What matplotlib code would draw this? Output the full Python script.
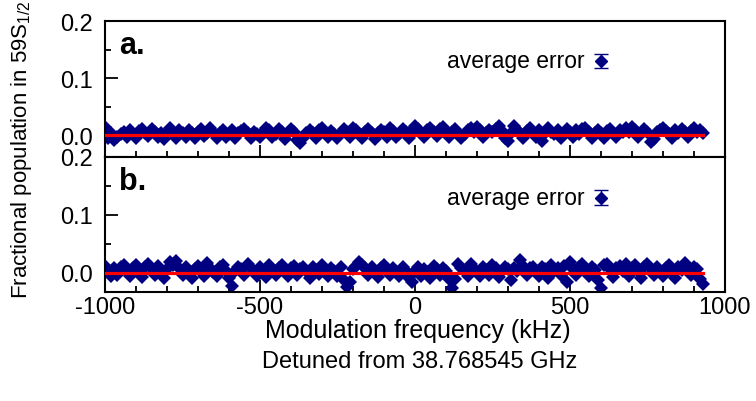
import matplotlib
matplotlib.use("Agg")
import matplotlib.pyplot as plt
import numpy as np
from matplotlib.ticker import MultipleLocator

plt.rcParams['font.family'] = ['Liberation Sans', 'DejaVu Sans']
plt.rcParams['mathtext.fontset'] = 'custom'
plt.rcParams['mathtext.rm'] = 'Liberation Sans'
plt.rcParams['mathtext.it'] = 'Liberation Sans:italic'

# ---------------- data ----------------
freq_start = -1000
freq_step = 10

pop_a = [
    0.014, -0.006, 0.004, -0.009, -0.004, 0.002, 0.006, -0.003, 0.008, 0.002,
    -0.005, 0.007, 0.010, 0.004, -0.002, 0.011, 0.006, -0.004, 0.003, -0.007,
    0.005, 0.012, 0.002, -0.006, 0.008, 0.004, -0.003, 0.009, 0.003, -0.005,
    0.006, 0.010, -0.002, 0.004, 0.012, 0.005, -0.006, 0.003, 0.008, -0.004,
    0.002, 0.009, -0.005, 0.004, 0.007, 0.011, 0.003, -0.006, 0.005, 0.001,
    -0.003, 0.006, 0.013, 0.008, -0.004, 0.002, 0.010, 0.005, -0.007, 0.004,
    0.011, 0.006, -0.009, -0.014, -0.006, 0.003, 0.009, 0.004, -0.005, 0.008,
    0.012, 0.005, -0.003, 0.007, 0.002, -0.006, 0.004, 0.010, 0.006, -0.004,
    0.013, 0.008, 0.002, -0.005, 0.006, 0.011, 0.004, -0.007, 0.003, 0.009,
    0.005, -0.003, 0.012, 0.007, -0.004, 0.002, 0.010, 0.006, -0.005, 0.008,
    0.015, 0.010, 0.003, -0.004, 0.008, 0.013, 0.006, -0.002, 0.011, 0.014,
    0.007, -0.003, 0.005, 0.010, 0.004, -0.006, 0.002, 0.009, 0.012, 0.006,
    0.014, 0.008, -0.004, 0.003, 0.009, 0.005, 0.011, 0.015, 0.007, -0.005,
    -0.011, 0.004, 0.016, 0.009, 0.003, -0.006, 0.007, 0.012, 0.005, -0.003,
    0.008, -0.010, 0.004, 0.013, 0.006, 0.002, 0.009, -0.005, 0.003, 0.011,
    0.005, -0.004, 0.008, 0.002, 0.010, 0.013, 0.006, -0.006, 0.004, 0.009,
    0.003, -0.005, 0.007, 0.011, 0.004, -0.003, 0.009, 0.005, 0.012, 0.006,
    0.014, 0.008, -0.004, 0.003, 0.010, 0.006, -0.012, -0.007, 0.005, 0.009,
    0.013, 0.007, 0.002, -0.005, 0.008, 0.004, 0.010, 0.006, -0.003, 0.007,
    0.012, 0.005, 0.009, 0.004,
]

pop_b = [
    0.012, 0.004, -0.006, 0.008, -0.003, 0.011, 0.014, 0.006, -0.005, 0.009,
    0.013, 0.002, -0.007, 0.010, 0.015, 0.007, -0.004, 0.012, 0.005, -0.008,
    0.006, 0.019, 0.014, 0.020, 0.008, -0.003, 0.011, 0.004, -0.009, 0.007,
    0.012, 0.005, -0.006, 0.017, 0.009, 0.002, -0.005, 0.010, 0.013, 0.004,
    -0.008, -0.022, 0.003, 0.011, 0.006, -0.004, 0.015, 0.008, 0.002, -0.006,
    0.010, 0.004, -0.007, 0.013, 0.006, -0.003, 0.009, 0.014, 0.005, -0.005,
    0.008, 0.012, -0.004, 0.006, 0.011, 0.003, -0.008, 0.010, 0.005, -0.002,
    0.013, 0.007, -0.005, 0.009, 0.004, -0.006, 0.011, -0.012, -0.024, -0.015,
    0.006, 0.012, 0.019, 0.014, 0.008, -0.004, 0.010, 0.003, -0.007, 0.009,
    0.013, 0.005, -0.003, 0.008, 0.002, -0.006, 0.011, 0.004, -0.009, -0.015,
    0.004, 0.010, -0.005, 0.007, 0.002, -0.008, 0.012, 0.006, -0.004, 0.009,
    0.003, -0.011, -0.026, -0.010, 0.016, 0.008, 0.004, -0.006, 0.015, 0.007,
    0.002, -0.005, 0.010, 0.005, -0.003, 0.013, 0.008, -0.007, 0.004, 0.011,
    0.006, -0.012, 0.009, 0.003, 0.023, 0.012, -0.004, 0.008, 0.010, 0.002,
    -0.005, 0.011, 0.006, -0.008, 0.014, 0.004, 0.009, -0.003, 0.012, -0.015,
    0.019, 0.007, -0.004, 0.010, 0.015, 0.003, -0.006, 0.011, 0.005, -0.012,
    -0.026, 0.014, 0.015, 0.006, -0.007, 0.009, 0.012, 0.004, 0.016, -0.005,
    0.008, 0.013, 0.003, -0.009, 0.010, 0.015, 0.006, -0.004, 0.011, 0.004,
    -0.006, 0.009, 0.013, 0.002, -0.008, 0.010, 0.005, 0.017, 0.007, -0.004,
    0.011, 0.006, -0.010, -0.019,
]

freq_a = [freq_start + i * freq_step for i in range(len(pop_a))]
freq_b = [freq_start + i * freq_step for i in range(len(pop_b))]

fit_x = [-1000, 930]
fit_a = [0.0, 0.0]
fit_b = [-0.001, -0.001]

avg_err_x = 600
avg_err_y = 0.13
avg_err = 0.013

panel_labels = ["a.", "b."]
xticks = [-1000, -500, 0, 500, 1000]
yticks = [0.0, 0.1, 0.2]

# ---------------- figure ----------------
W, H = 756, 402
fig = plt.figure(figsize=(W / 100, H / 100), dpi=100)

def fx(px):
    return px / W

def fy(py):
    return 1 - py / H

left, right = 105, 725
ax_a = fig.add_axes([fx(left), fy(158), fx(right) - fx(left), fy(22) - fy(158)])
ax_b = fig.add_axes([fx(left), fy(293), fx(right) - fx(left), fy(158) - fy(293)])

navy = '#000080'
tfs = 17

for ax, fr, pop, fit, lab, ylo in [(ax_a, freq_a, pop_a, fit_a, panel_labels[0], -0.0385),
                                  (ax_b, freq_b, pop_b, fit_b, panel_labels[1], -0.033)]:
    ax.plot(fr, pop, linestyle='none', marker='D', markersize=7.5,
            markerfacecolor=navy, markeredgecolor=navy, markeredgewidth=0,
            zorder=2)
    ax.plot(fit_x, fit, color='#ff0000', linewidth=2.3, zorder=3)
    ax.errorbar([avg_err_x], [avg_err_y], yerr=[avg_err], fmt='D', color=navy,
                markersize=6, capsize=5, elinewidth=1.0, capthick=1.0, zorder=3)
    ax.text(0.774, avg_err_y, "average error", transform=ax.get_yaxis_transform(),
            ha='right', va='center', fontsize=16.5)
    ax.text(0.022, 0.82, lab, transform=ax.transAxes, ha='left', va='center',
            fontsize=22, fontweight='bold')
    ax.set_xlim(-1000, 1000)
    ax.set_ylim(ylo, 0.2)
    ax.set_yticks(yticks)
    ax.set_yticklabels([f"{v:.1f}" for v in yticks])
    ax.yaxis.set_minor_locator(MultipleLocator(0.05))
    ax.set_xticks(xticks)
    ax.xaxis.set_minor_locator(MultipleLocator(100))
    ax.tick_params(axis='both', which='major', direction='in', length=9, width=1.3,
                   labelsize=tfs, pad=9, top=False, right=False)
    ax.tick_params(axis='both', which='minor', direction='in', length=4.5, width=1.3,
                   top=False, right=False)
    for sp in ax.spines.values():
        sp.set_linewidth(1.5)

ax_a.tick_params(axis='x', labelbottom=False)
ax_b.set_xticklabels([str(v) for v in xticks])
ax_b.tick_params(axis='x', pad=3)

fig.text(fx(418), fy(331), "Modulation frequency (kHz)", ha='center', va='center', fontsize=18)
fig.text(fx(420), fy(362), "Detuned from 38.768545 GHz", ha='center', va='center', fontsize=17)
fig.text(fx(22), fy(150), r"Fractional population in 59S$_{1/2}$", rotation=90,
         ha='center', va='center', fontsize=16)

fig.savefig("out.png", dpi=100)
